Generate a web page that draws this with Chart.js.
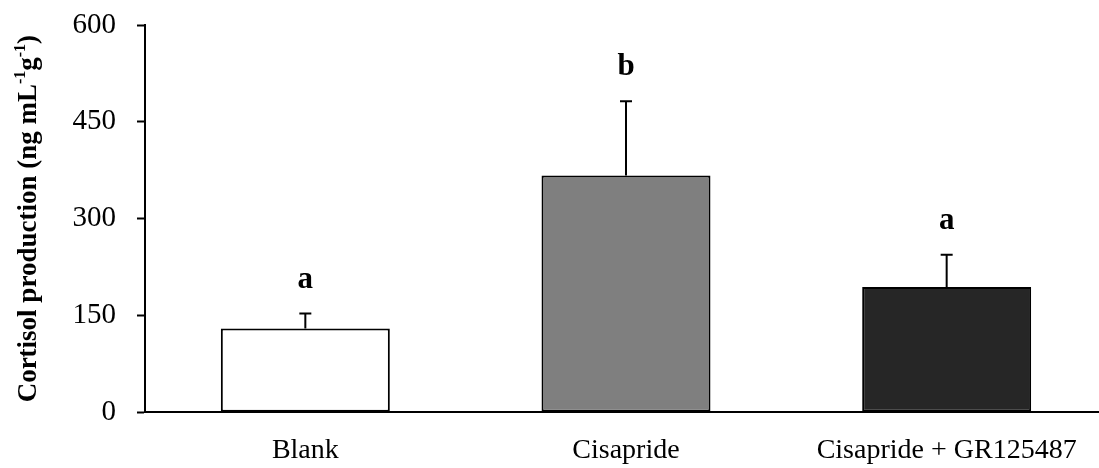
<!DOCTYPE html>
<html>
<head>
<meta charset="utf-8">
<script src="https://cdn.jsdelivr.net/npm/chart.js@4/dist/chart.umd.min.js"></script>
<style>
html,body{margin:0;padding:0;background:#fff;overflow:hidden;}
#wrap{position:relative;width:1107px;height:468px;}
</style>
</head>
<body>
<div id="wrap"><canvas id="c"></canvas></div>
<script>
const categories = ['Blank', 'Cisapride', 'Cisapride + GR125487'];
const means = [130, 367, 194];
const errors = [23, 115, 50];
const letters = ['a', 'b', 'a'];
const barColors = ['#ffffff', '#7f7f7f', '#262626'];
const yTicks = [0, 150, 300, 450, 600];

const FONT = '"Liberation Serif", "Times New Roman", serif';

const errorBarPlugin = {
  id: 'errorBars',
  afterDatasetsDraw(chart) {
    const ctx = chart.ctx;
    const meta = chart.getDatasetMeta(0);
    const y = chart.scales.y;
    ctx.save();
    ctx.strokeStyle = '#000';
    ctx.lineWidth = 2;
    meta.data.forEach((bar, i) => {
      const top = y.getPixelForValue(means[i] + errors[i]);
      ctx.beginPath();
      ctx.moveTo(bar.x, bar.y);
      ctx.lineTo(bar.x, top);
      ctx.moveTo(bar.x - 6, top);
      ctx.lineTo(bar.x + 6, top);
      ctx.stroke();
      ctx.fillStyle = '#000';
      ctx.font = 'bold 31px ' + FONT;
      ctx.textAlign = 'center';
      ctx.textBaseline = 'alphabetic';
      ctx.fillText(letters[i], bar.x, top - 26);
    });
    ctx.restore();
  }
};

const yTitlePlugin = {
  id: 'yTitle',
  afterDraw(chart) {
    const ctx = chart.ctx;
    const area = chart.chartArea;
    const main = 'bold 27px ' + FONT;
    const sup = 'bold 16px ' + FONT;
    const parts = [
      {t: 'Cortisol production (ng mL', f: main, dy: 0},
      {t: '-1', f: sup, dy: -11},
      {t: 'g', f: main, dy: 0},
      {t: '-1', f: sup, dy: -11},
      {t: ')', f: main, dy: 0}
    ];
    ctx.save();
    let total = 0;
    parts.forEach(p => { ctx.font = p.f; p.w = ctx.measureText(p.t).width; total += p.w; });
    ctx.translate(36, (area.top + area.bottom) / 2);
    ctx.rotate(-Math.PI / 2);
    ctx.fillStyle = '#000';
    ctx.textAlign = 'left';
    ctx.textBaseline = 'alphabetic';
    let x = -total / 2;
    parts.forEach(p => { ctx.font = p.f; ctx.fillText(p.t, x, p.dy); x += p.w; });
    ctx.restore();
  }
};

new Chart(document.getElementById('c'), {
  type: 'bar',
  data: {
    labels: categories,
    datasets: [{
      data: means,
      backgroundColor: barColors,
      borderColor: '#000',
      borderWidth: 2,
      borderSkipped: false,
      barPercentage: 0.527,
      categoryPercentage: 1.0
    }]
  },
  options: {
    responsive: true,
    maintainAspectRatio: false,
    animation: false,
    devicePixelRatio: 1,
    layout: {padding: {top: 25, left: 0, right: 0, bottom: 0}},
    plugins: {legend: {display: false}, tooltip: {enabled: false}},
    scales: {
      x: {
        grid: {display: false, drawTicks: false},
        border: {display: true, color: '#000', width: 2, z: 1},
        ticks: {color: '#000', font: {family: FONT, size: 28}, padding: 22, maxRotation: 0, autoSkip: false},
        afterFit(s) { s.height = 468 - 412.3; s.paddingLeft = 0; s.paddingRight = 0; }
      },
      y: {
        min: 0,
        max: 600,
        afterBuildTicks(s) { s.ticks = yTicks.map(v => ({value: v})); },
        grid: {display: true, drawOnChartArea: false, drawTicks: true, tickLength: 8, color: '#000', tickWidth: 2},
        border: {display: true, color: '#000', width: 2, z: 1},
        ticks: {color: '#000', font: {family: FONT, size: 29}, padding: 21},
        afterFit(s) { s.width = 145; s.paddingTop = 0; s.paddingBottom = 0; }
      }
    }
  },
  plugins: [errorBarPlugin, yTitlePlugin]
});
</script>
</body>
</html>
